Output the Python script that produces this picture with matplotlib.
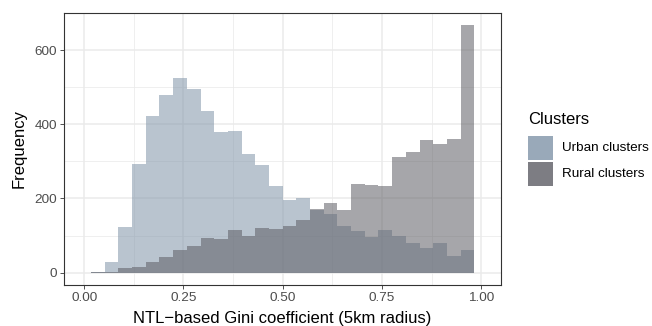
import numpy as np
import matplotlib
matplotlib.use("Agg")
import matplotlib.pyplot as plt
from matplotlib.patches import Rectangle

plt.rcParams['font.family'] = ['Liberation Sans', 'DejaVu Sans']

# histogram counts per bin (30 bins of width 1/29, outer two dropped by limits 0..1)
bin_width = 1 / 29
first_edge = 0.5 / 29
urban_counts = [1, 28, 122, 294, 423, 479, 525, 495, 437, 380, 381, 320, 289, 233,
                197, 200, 170, 157, 127, 111, 97, 116, 98, 79, 67, 79, 45, 62]
rural_counts = [2, 3, 12, 14, 30, 42, 62, 72, 93, 92, 116, 100, 121, 119,
                127, 143, 172, 188, 168, 239, 237, 235, 311, 325, 357, 348, 361, 667]
series_names = ['Urban clusters', 'Rural clusters']
series_colors = ['#8094a8', '#5d5d64']

x_ticks = [0.0, 0.25, 0.5, 0.75, 1.0]
x_ticklabels = ['0.00', '0.25', '0.50', '0.75', '1.00']
y_ticks = [0, 200, 400, 600]

left_edges = first_edge + bin_width * np.arange(len(urban_counts))

fig = plt.figure(figsize=(6.52, 3.26), dpi=100)
ax = fig.add_axes([64.3 / 652, 1 - 285 / 326, (501 - 64.3) / 652, (285 - 13) / 326])

for counts, col in zip([urban_counts, rural_counts], series_colors):
    ax.bar(left_edges, counts, width=bin_width, align='edge', color=col,
           alpha=0.55, linewidth=0, zorder=2)

ax.set_xlim(-0.05, 1.05)
ax.set_ylim(-0.05 * 667, 667 * 1.05)

ax.set_xticks(x_ticks)
ax.set_xticklabels(x_ticklabels)
ax.set_yticks(y_ticks)
ax.set_xticks([0.125, 0.375, 0.625, 0.875], minor=True)
ax.set_yticks([100, 300, 500], minor=True)
ax.grid(which='major', color='#ebebeb', linewidth=1.1, zorder=0)
ax.grid(which='minor', color='#ebebeb', linewidth=0.55, zorder=0)
ax.set_axisbelow(True)
ax.tick_params(which='minor', length=0)
ax.tick_params(which='major', length=3, width=0.6, color='#333333',
               labelsize=9.7, labelcolor='#4d4d4d', pad=2)
for s in ax.spines.values():
    s.set_color('#333333')
    s.set_linewidth(0.8)

ax.set_xlabel('NTL\u2212based Gini coefficient (5km radius)', fontsize=12, color='black', labelpad=5)
ax.set_ylabel('Frequency', fontsize=12, color='black', labelpad=6)

# legend
fig.text(528 / 652, 1 - 120 / 326, 'Clusters', fontsize=12, ha='left', va='center')
key_tops = [136, 161.5]
for name, col, top in zip(series_names, series_colors, key_tops):
    fig.patches.append(Rectangle((528 / 652, 1 - (top + 24.5) / 326), 24.5 / 652, 24.5 / 326,
                                 transform=fig.transFigure, facecolor=col, alpha=0.8,
                                 linewidth=0))
    fig.text(561.5 / 652, 1 - (top + 12.25) / 326, name, fontsize=9.7, ha='left', va='center')

fig.savefig('out.png', dpi=100)
